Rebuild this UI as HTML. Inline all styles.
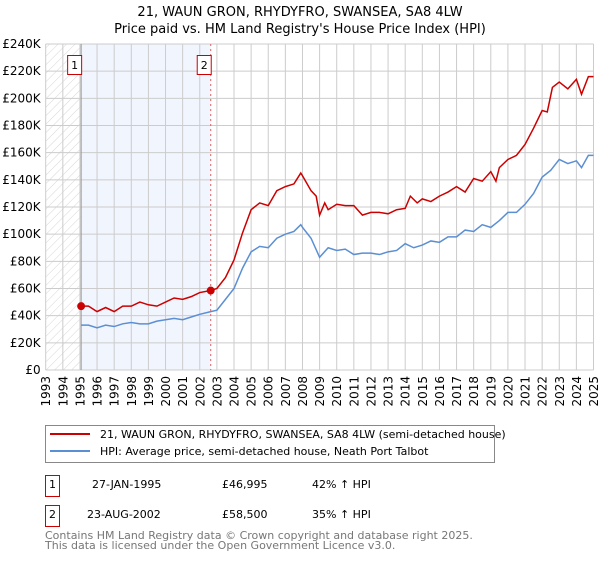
<!DOCTYPE html>
<html><head><meta charset="utf-8"><style>
body{margin:0;background:#fff;font-family:"DejaVu Sans","Liberation Sans",sans-serif}
svg text{font-family:"DejaVu Sans","Liberation Sans",sans-serif}
</style></head><body>
<svg id="c" width="600" height="560" xmlns="http://www.w3.org/2000/svg">
<text x="300" y="16" text-anchor="middle" font-size="13">21, WAUN GRON, RHYDYFRO, SWANSEA, SA8 4LW</text>
<text x="300" y="33" text-anchor="middle" font-size="13">Price paid vs. HM Land Registry's House Price Index (HPI)</text>
<defs><pattern id="h" width="6" height="6" patternUnits="userSpaceOnUse" patternTransform="rotate(45)"><line x1="0" y1="0" x2="0" y2="6" stroke="#ccc" stroke-width="0.8"/></pattern></defs>
<g id="plot"></g>
<g>
<rect x="45.5" y="425.5" width="449" height="37" fill="#fff" stroke="#888"/>
<line x1="50" y1="434" x2="90" y2="434" stroke="#cc0000" stroke-width="2"/>
<text x="100" y="438" font-size="11">21, WAUN GRON, RHYDYFRO, SWANSEA, SA8 4LW (semi-detached house)</text>
<line x1="50" y1="451" x2="90" y2="451" stroke="#5b8fd4" stroke-width="2"/>
<text x="100" y="455" font-size="11">HPI: Average price, semi-detached house, Neath Port Talbot</text>
</g>
<g font-size="11">
<rect x="45.5" y="475.5" width="14" height="21" fill="#fff" stroke="#cc0000"/><text x="52.5" y="488" text-anchor="middle">1</text>
<text x="92" y="488">27-JAN-1995</text><text x="222" y="488">£46,995</text><text x="312" y="488">42% ↑ HPI</text>
<rect x="45.5" y="505.5" width="14" height="21" fill="#fff" stroke="#cc0000"/><text x="52.5" y="518" text-anchor="middle">2</text>
<text x="87" y="518">23-AUG-2002</text><text x="222" y="518">£58,500</text><text x="312" y="518">35% ↑ HPI</text>
</g>
</svg>
<script>
const yTicks=[0,20,40,60,80,100,120,140,160,180,200,220,240];
const years=[1993,1994,1995,1996,1997,1998,1999,2000,2001,2002,2003,2004,2005,2006,2007,2008,2009,2010,2011,2012,2013,2014,2015,2016,2017,2018,2019,2020,2021,2022,2023,2024,2025];
const hpiT=[1995.07,1995.5,1996,1996.5,1997,1997.5,1998,1998.5,1999,1999.5,2000,2000.5,2001,2001.5,2002,2002.64,2003,2003.5,2004,2004.5,2005,2005.5,2006,2006.5,2007,2007.5,2007.9,2008,2008.5,2009,2009.5,2010,2010.5,2011,2011.5,2012,2012.5,2013,2013.5,2014,2014.5,2015,2015.5,2016,2016.5,2017,2017.5,2018,2018.5,2019,2019.5,2020,2020.5,2021,2021.5,2022,2022.5,2023,2023.5,2024,2024.3,2024.7,2025];
const hpiV=[33,33,31,33,32,34,35,34,34,36,37,38,37,39,41,43,44,52,60,75,87,91,90,97,100,102,107,105,97,83,90,88,89,85,86,86,85,87,88,93,90,92,95,94,98,98,103,102,107,105,110,116,116,122,130,142,147,155,152,154,149,158,158];
const redT=[1995.07,1995.5,1996,1996.5,1997,1997.5,1998,1998.5,1999,1999.5,2000,2000.5,2001,2001.5,2002,2002.64,2003,2003.5,2004,2004.5,2005,2005.5,2006,2006.5,2007,2007.5,2007.9,2008,2008.5,2008.8,2009,2009.3,2009.5,2010,2010.5,2011,2011.5,2012,2012.5,2013,2013.5,2014,2014.3,2014.7,2015,2015.5,2016,2016.5,2017,2017.5,2018,2018.5,2019,2019.3,2019.5,2020,2020.5,2021,2021.5,2022,2022.3,2022.6,2023,2023.5,2024,2024.3,2024.7,2025];
const redV=[47,47,43,46,43,47,47,50,48,47,50,53,52,54,57,58.5,60,68,81,101,118,123,121,132,135,137,145,143,132,128,114,123,118,122,121,121,114,116,116,115,118,119,128,123,126,124,128,131,135,131,141,139,146,139,149,155,158,166,178,191,190,208,212,207,214,203,216,216];
const sales=[[1995.07,46.995,"1"],[2002.64,58.5,"2"]];
const NS="http://www.w3.org/2000/svg";
const X0=45.7,X1=593.5,Y0=370,Y1=44;
const x=t=>X0+(t-1993)/(2025-1993)*(X1-X0);
const y=v=>Y0-v/240*(Y0-Y1);
const g=document.getElementById('plot');
function mk(tag,a,p){const e=document.createElementNS(NS,tag);for(const k in a)e.setAttribute(k,a[k]);(p||g).appendChild(e);return e;}
let e=mk('rect',{x:x(1995.07),y:Y1,width:x(2002.64)-x(1995.07),height:Y0-Y1,fill:'#eef3fc',opacity:0.8});


e=mk('rect',{x:X0,y:Y1,width:x(1995.07)-X0,height:Y0-Y1,fill:'url(#h)'});


yTicks.forEach(v=>{mk('line',{x1:X0,x2:X1,y1:y(v),y2:y(v),stroke:'#ccc'});
 const t=mk('text',{x:X0-5,y:y(v)+4,'text-anchor':'end','font-size':12});t.textContent=v===0?'£0':'£'+v+'K';
 
 });
years.forEach(yr=>{mk('line',{x1:x(yr),x2:x(yr),y1:Y1,y2:Y0,stroke:'#ccc'});
 const t=mk('text',{x:0,y:0,'font-size':12,'text-anchor':'end',transform:`translate(${x(yr)+4.5},376) rotate(-90)`});t.textContent=yr;
 
 });
mk('line',{x1:x(1995.07),x2:x(1995.07),y1:Y1,y2:Y0,stroke:'#999'});
mk('line',{x1:x(2002.64),x2:x(2002.64),y1:Y1,y2:Y0,stroke:'#e06060','stroke-dasharray':'2,3'});
function line(T,V,c,n){const p=mk('polyline',{points:T.map((t,i)=>x(t)+','+y(V[i])).join(' '),fill:'none',stroke:c,'stroke-width':1.5});
 
 }
line(hpiT,hpiV,'#5b8fd4','hpi-line');
line(redT,redV,'#cc0000','property-line');
sales.forEach(s=>{const d=mk('circle',{cx:x(s[0]),cy:y(s[1]),r:4,fill:'#cc0000'});
 
 
 const bx=x(s[0])-14;mk('rect',{x:bx+0.5,y:55.5,width:14,height:19,fill:'#fff',stroke:'#cc0000'});
 const t=mk('text',{x:bx+7.5,y:69,'text-anchor':'middle','font-size':11});t.textContent=s[2];
 
 });
const svg=document.getElementById('c');
const f1=mk('text',{x:45,y:539,'font-size':11,fill:'#777'},svg);f1.textContent='Contains HM Land Registry data © Crown copyright and database right 2025.';


const f2=mk('text',{x:45,y:549,'font-size':11,fill:'#777'},svg);f2.textContent='This data is licensed under the Open Government Licence v3.0.';


</script>
</body></html>
